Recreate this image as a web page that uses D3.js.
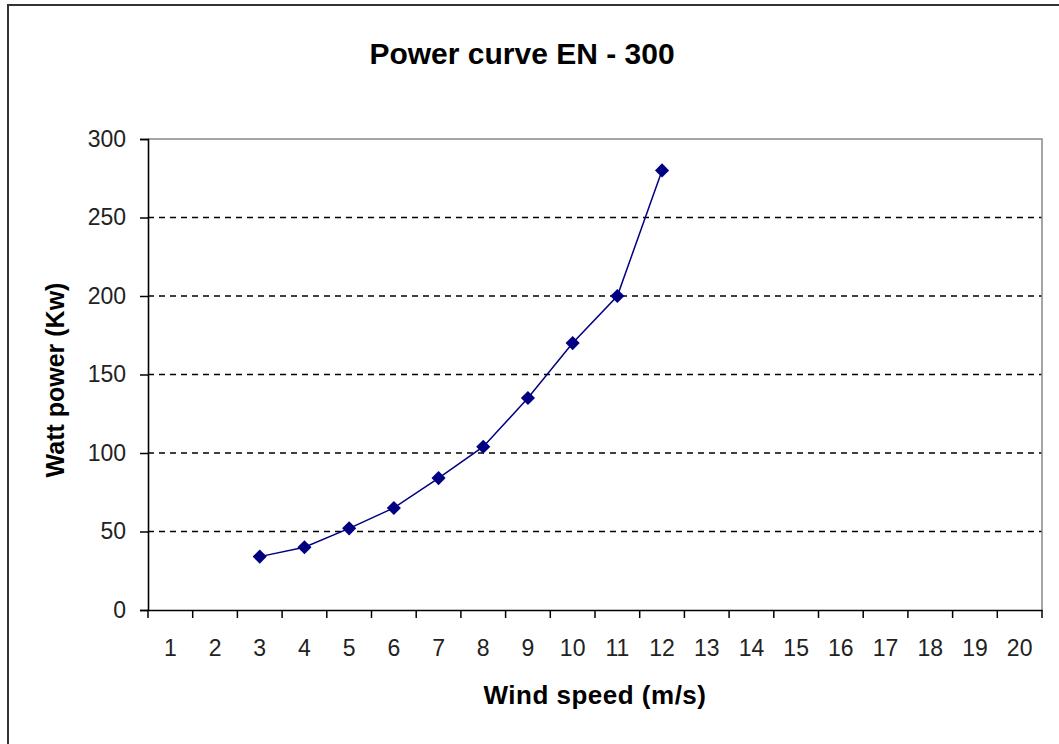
<!DOCTYPE html>
<html>
<head>
<meta charset="utf-8">
<script src="https://cdn.jsdelivr.net/npm/d3@7"></script>
<style>
  html, body { margin: 0; padding: 0; background: #fff; }
  svg { display: block; }
</style>
</head>
<body>
<svg id="chart" width="1059" height="744"></svg>
<script>
const categories = ["1","2","3","4","5","6","7","8","9","10","11","12","13","14","15","16","17","18","19","20"];
const windSpeeds = ["3","4","5","6","7","8","9","10","11","12"];
const powerValues = [34, 40, 52, 65, 84, 104, 135, 170, 200, 280];
const yTicks = [0, 50, 100, 150, 200, 250, 300];
const titleText = "Power curve EN - 300";
const xTitle = "Wind speed (m/s)";
const yTitle = "Watt power (Kw)";

const svg = d3.select("#chart");
const W = 1059, H = 744;
const plot = { left: 148, right: 1042, top: 139, bottom: 610 };

svg.append("rect").attr("width", W).attr("height", H).attr("fill", "#fff");
// outer frame
svg.append("rect").attr("x", 8).attr("y", 5).attr("width", 1070).attr("height", 770)
  .attr("fill", "none").attr("stroke", "#333").attr("stroke-width", 2);

const x = d3.scaleBand().domain(categories).range([plot.left, plot.right]).padding(0);
const y = d3.scaleLinear().domain([0, 300]).range([plot.bottom, plot.top]);

// gridlines
svg.append("g").selectAll("line").data(yTicks.filter(v => v > 0 && v < 300)).join("line")
  .attr("x1", plot.left).attr("x2", plot.right)
  .attr("y1", d => y(d)).attr("y2", d => y(d))
  .attr("stroke", "#000").attr("stroke-width", 1.4).attr("stroke-dasharray", "6,5");

// plot area border top/right
svg.append("path")
  .attr("d", `M${plot.left},${y(300)}H${plot.right}V${plot.bottom}`)
  .attr("fill", "none").attr("stroke", "#888").attr("stroke-width", 1.5);

// y axis
const yAxis = svg.append("g").attr("transform", `translate(${plot.left},0)`)
  .call(d3.axisLeft(y).tickValues(yTicks).tickSize(8).tickPadding(14));
yAxis.select(".domain").attr("stroke", "#000").attr("stroke-width", 1.6);
yAxis.selectAll(".tick line").attr("stroke", "#000").attr("stroke-width", 1.5);
yAxis.selectAll(".tick text").attr("font-family", "Liberation Sans, Arial, sans-serif")
  .attr("font-size", 23).attr("fill", "#222");

// x axis
const xAxis = svg.append("g").attr("transform", `translate(0,${plot.bottom})`)
  .call(d3.axisBottom(x).tickSize(0).tickPadding(30));
xAxis.select(".domain").attr("stroke", "#000").attr("stroke-width", 1.6);
xAxis.selectAll(".tick text").attr("font-family", "Liberation Sans, Arial, sans-serif")
  .attr("font-size", 23).attr("fill", "#222");
// category boundary ticks
const boundaries = categories.map(c => x(c)).concat([x(categories[categories.length - 1]) + x.bandwidth()]);
xAxis.append("g").selectAll("line").data(boundaries).join("line")
  .attr("x1", d => d).attr("x2", d => d).attr("y1", 0).attr("y2", 8)
  .attr("stroke", "#000").attr("stroke-width", 1.5);

// series
const pts = windSpeeds.map((s, i) => ({ s, v: powerValues[i] }));
const cx = d => x(d.s) + x.bandwidth() / 2;
svg.append("path").datum(pts)
  .attr("d", d3.line().x(cx).y(d => y(d.v)))
  .attr("fill", "none").attr("stroke", "#000080").attr("stroke-width", 1.5);
svg.append("g").selectAll("path").data(pts).join("path")
  .attr("d", d3.symbol(d3.symbolSquare, 100))
  .attr("transform", d => `translate(${cx(d)},${y(d.v)}) rotate(45)`)
  .attr("fill", "#000080");

// titles
svg.append("text").attr("x", 522).attr("y", 64).attr("text-anchor", "middle")
  .attr("font-family", "Liberation Sans, Arial, sans-serif").attr("font-weight", "bold")
  .attr("font-size", 30).attr("fill", "#000").text(titleText);
svg.append("text").attr("x", 595).attr("y", 704).attr("text-anchor", "middle")
  .attr("font-family", "Liberation Sans, Arial, sans-serif").attr("font-weight", "bold")
  .attr("font-size", 26).attr("letter-spacing", 0.5).attr("fill", "#000").text(xTitle);
svg.append("text").attr("transform", "translate(64,380) rotate(-90)").attr("text-anchor", "middle")
  .attr("font-family", "Liberation Sans, Arial, sans-serif").attr("font-weight", "bold")
  .attr("font-size", 25).attr("fill", "#000").text(yTitle);
</script>
</body>
</html>
